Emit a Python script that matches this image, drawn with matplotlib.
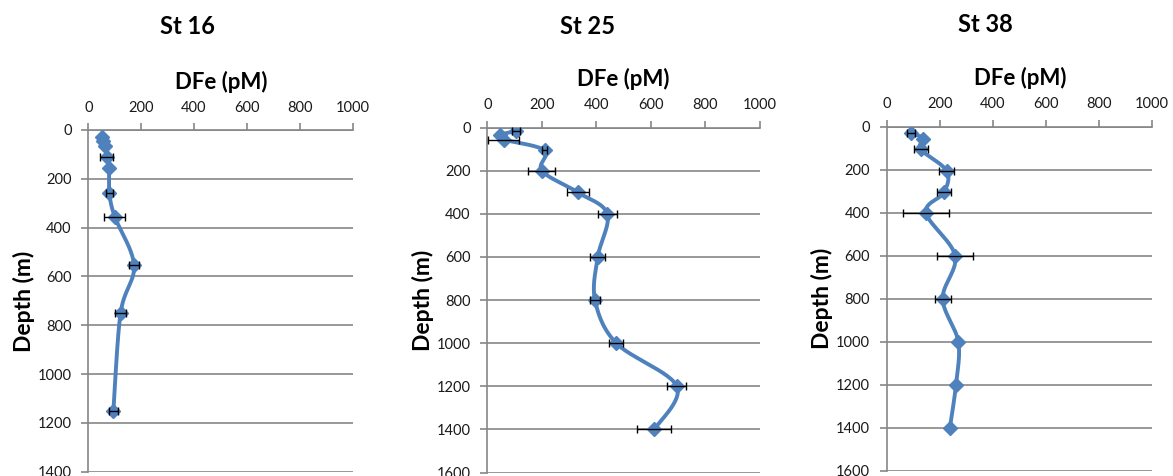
import numpy as np
import matplotlib
matplotlib.use("Agg")
import matplotlib.pyplot as plt

plt.rcParams['font.family'] = ['Lato', 'DejaVu Sans']

# ---- data ----
stations = ["St 16", "St 25", "St 38"]

depth_16 = [30, 45, 65, 110, 155, 260, 355, 555, 750, 1150]
dfe_16 = [50, 57, 65, 70, 78, 80, 100, 173, 122, 95]
err_16 = [0, 0, 0, 25, 0, 12, 40, 18, 20, 17]

depth_25 = [15, 35, 55, 105, 200, 300, 400, 600, 800, 1000, 1200, 1400]
dfe_25 = [105, 45, 60, 210, 200, 332, 440, 405, 395, 473, 695, 612]
err_25 = [15, 0, 57, 8, 50, 40, 35, 28, 18, 25, 35, 63]

depth_38 = [30, 55, 105, 205, 305, 400, 600, 800, 1000, 1200, 1400]
dfe_38 = [92, 138, 128, 226, 216, 148, 258, 211, 270, 261, 238]
err_38 = [15, 0, 26, 28, 25, 87, 69, 30, 0, 0, 0]

x_ticks = [0, 200, 400, 600, 800, 1000]
y_max = [1400, 1600, 1600]

series = [(depth_16, dfe_16, err_16), (depth_25, dfe_25, err_25), (depth_38, dfe_38, err_38)]

W, H = 1173, 476
fig = plt.figure(figsize=(W / 100, H / 100), dpi=100)

# axes boxes in pixels: left, right, top, bottom
boxes = [(88.3, 352.7, 130.0, 471.7), (487.3, 760.0, 127.7, 472.5), (886.7, 1152.0, 126.7, 471.0)]
title_pos = [(187, 27), (588, 26), (985, 25)]
xlabel_pos = [(221, 82), (623, 79), (1020, 78)]
ylabel_pos = [(24, 301), (423, 300), (822, 298)]

BLUE = '#4F81BD'
GRAY = '#868686'


def smooth(xs, ys, n=30):
    p = np.column_stack([xs, ys]).astype(float)
    m = len(p)
    out = [p[0]]
    for i in range(m - 1):
        pm = p[i - 1] if i > 0 else p[i]
        p0, p1 = p[i], p[i + 1]
        p2 = p[i + 2] if i + 2 < m else p[i + 1]
        c1 = p0 + (p1 - pm) / 6.0
        c2 = p1 - (p2 - p0) / 6.0
        t = np.linspace(0, 1, n)[1:, None]
        seg = ((1 - t) ** 3) * p0 + 3 * ((1 - t) ** 2) * t * c1 + 3 * (1 - t) * t ** 2 * c2 + t ** 3 * p1
        out.extend(seg)
    out = np.array(out)
    return out[:, 0], out[:, 1]


for k, (d, v, e) in enumerate(series):
    l, r, t, b = boxes[k]
    ax = fig.add_axes([l / W, 1 - b / H, (r - l) / W, (b - t) / H])
    ax.set_xlim(0, 1000)
    ax.set_ylim(y_max[k], 0)
    ax.set_xticks(x_ticks)
    ax.set_yticks(np.arange(0, y_max[k] + 1, 200))
    ax.xaxis.tick_top()
    for s in ['right', 'bottom']:
        ax.spines[s].set_visible(False)
    for s in ['left', 'top']:
        ax.spines[s].set_color(GRAY)
        ax.spines[s].set_linewidth(1.2)
    ax.yaxis.grid(True, color=GRAY, linewidth=1.2)
    ax.set_axisbelow(True)
    ax.tick_params(axis='x', direction='out', length=5, width=1.2, color=GRAY,
                   labelsize=10.5, pad=6, labelcolor='#1a1a1a')
    ax.tick_params(axis='y', direction='out', length=5, width=1.2, color=GRAY,
                   labelsize=10.5, pad=7, labelcolor='#1a1a1a')
    sx, sy = smooth(v, d)
    ax.plot(sx, sy, color=BLUE, linewidth=2.8, zorder=3, solid_capstyle='round')
    ax.plot(v, d, linestyle='none', marker='D', markersize=7.5, color=BLUE, zorder=4)
    va, da, ea = np.array(v), np.array(d), np.array(e)
    has = ea > 0
    ax.errorbar(va[has], da[has], xerr=ea[has], fmt='none', ecolor='black', elinewidth=1.0,
                capsize=3, capthick=1.0, zorder=5, clip_on=False)

    fig.text(title_pos[k][0] / W, 1 - title_pos[k][1] / H, stations[k], fontsize=17,
             fontweight='bold', ha='center', va='center')
    fig.text(xlabel_pos[k][0] / W, 1 - xlabel_pos[k][1] / H, "DFe (pM)", fontsize=16,
             fontweight='bold', ha='center', va='center')
    fig.text(ylabel_pos[k][0] / W, 1 - ylabel_pos[k][1] / H, "Depth (m)", fontsize=16.5,
             fontweight='bold', ha='center', va='center', rotation=90)

fig.savefig("out.png", dpi=100)
